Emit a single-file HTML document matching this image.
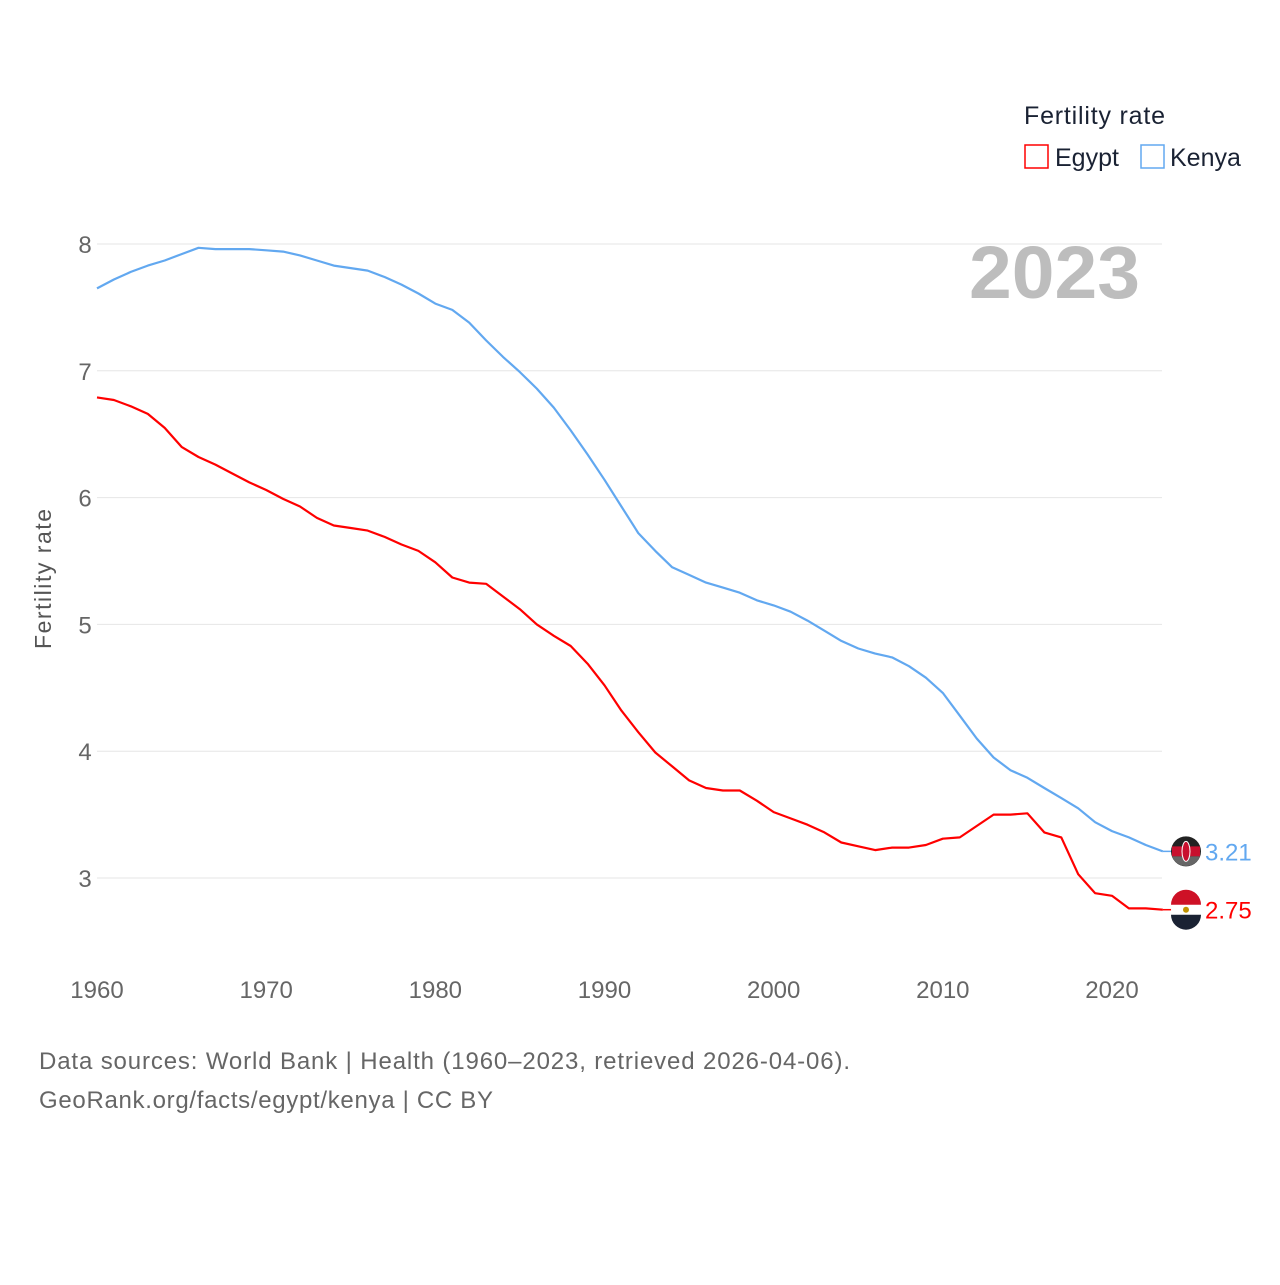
<!DOCTYPE html>
<html><head><meta charset="utf-8">
<style>
body{margin:0;background:#fff;font-family:"Liberation Sans",sans-serif;}
svg text{font-family:"Liberation Sans",sans-serif;}
</style></head>
<body>
<svg id="chart" width="1280" height="1280" xmlns="http://www.w3.org/2000/svg">
<g id="grid"></g>
<g id="yticks"></g>
<g id="xticks"></g>
<text x="969" y="298" font-size="74" font-weight="bold" fill="#bdbdbd" textLength="171" lengthAdjust="spacingAndGlyphs">2023</text>
<text transform="translate(51,579) rotate(-90)" font-size="23" fill="#555" text-anchor="middle" textLength="140">Fertility rate</text>
<text x="1024" y="124" font-size="25" fill="#1a2233" textLength="141">Fertility rate</text>
<g>
<rect x="1025" y="145" width="23" height="23" fill="none" stroke="#ff0000" stroke-width="1.5"/>
<text x="1055" y="166" font-size="25" fill="#1a2233">Egypt</text></g>
<g>
<rect x="1141" y="145" width="23" height="23" fill="none" stroke="#62a8f0" stroke-width="1.5"/>
<text x="1170" y="166" font-size="25" fill="#1a2233">Kenya</text></g>
<g id="series"></g>
<text x="39" y="1069" font-size="24" fill="#666" textLength="811">Data sources: World Bank | Health (1960–2023, retrieved 2026-04-06).</text>
<text x="39" y="1108" font-size="24" fill="#666" textLength="454">GeoRank.org/facts/egypt/kenya | CC BY</text>
</svg>
<script>
const years = [];
for (let y = 1960; y <= 2023; y++) years.push(y);
const kenya = [7.65,7.72,7.78,7.83,7.87,7.92,7.97,7.96,7.96,7.96,7.95,7.94,7.91,7.87,7.83,7.81,7.79,7.74,7.68,7.61,7.53,7.48,7.38,7.24,7.11,6.99,6.86,6.71,6.53,6.34,6.14,5.93,5.72,5.58,5.45,5.39,5.33,5.29,5.25,5.19,5.15,5.10,5.03,4.95,4.87,4.81,4.77,4.74,4.67,4.58,4.46,4.28,4.10,3.95,3.85,3.79,3.71,3.63,3.55,3.44,3.37,3.32,3.26,3.21];
const egypt = [6.79,6.77,6.72,6.66,6.55,6.40,6.32,6.26,6.19,6.12,6.06,5.99,5.93,5.84,5.78,5.76,5.74,5.69,5.63,5.58,5.49,5.37,5.33,5.32,5.22,5.12,5.00,4.91,4.83,4.69,4.52,4.32,4.15,3.99,3.88,3.77,3.71,3.69,3.69,3.61,3.52,3.47,3.42,3.36,3.28,3.25,3.22,3.24,3.24,3.26,3.31,3.32,3.41,3.50,3.50,3.51,3.36,3.32,3.03,2.88,2.86,2.76,2.76,2.75];
const yTicks = [3,4,5,6,7,8];
const xTicks = [1960,1970,1980,1990,2000,2010,2020];
const NS = "http://www.w3.org/2000/svg";
const xs = y => 97 + (y - 1960) * (1015 / 60);
const ys = v => 244 + (8 - v) * 126.8;
function mk(tag, attrs, parent){const e=document.createElementNS(NS,tag);for(const k in attrs)e.setAttribute(k,attrs[k]);parent.appendChild(e);return e;}
const grid=document.getElementById('grid'), yt=document.getElementById('yticks'), xt=document.getElementById('xticks'), ser=document.getElementById('series');
yTicks.forEach(v=>{
  const l=mk('line',{x1:97,x2:1162,y1:ys(v),y2:ys(v),stroke:'#e6e6e6','stroke-width':1},grid);
  
  
  const t=mk('text',{x:85,y:ys(v)+9,'font-size':24,fill:'#666','text-anchor':'middle'},yt);
  t.textContent=v;
  
  
});
xTicks.forEach(v=>{
  const t=mk('text',{x:xs(v),y:998,'font-size':24,fill:'#666','text-anchor':'middle'},xt);
  t.textContent=v;
  
  
});
function line(data,color,name){
  const d=data.map((v,i)=>(i?'L':'M')+xs(years[i]).toFixed(1)+','+ys(v).toFixed(1)).join('');
  const p=mk('path',{d:d,fill:'none',stroke:color,'stroke-width':2.2,'stroke-linejoin':'round'},ser);
  
  
  const last=data[data.length-1], lx=xs(years[years.length-1]), ly=ys(last);
  mk('line',{x1:lx,x2:1175,y1:ly,y2:ly,stroke:color,'stroke-width':1.5},ser);
  const g=mk('g',{},ser);
  
  
  if(name==='kenya'){
    mk('circle',{cx:1186,cy:ly,r:15,fill:'#222'},g);
    mk('path',{d:`M1172,${ly-5}L1200,${ly-5}L1200,${ly+5}L1172,${ly+5}Z`,fill:'#c8102e'},g);
    mk('path',{d:`M1172,${ly+5}L1200,${ly+5}A15,15 0 0 1 1172,${ly+5}Z`,fill:'#666'},g);
    mk('ellipse',{cx:1186,cy:ly,rx:4,ry:10,fill:'#c8102e',stroke:'#fff','stroke-width':1},g);
  } else {
    mk('circle',{cx:1186,cy:ly,r:15,fill:'#fff'},g);
    mk('path',{d:`M1171,${ly-5}A15,15 0 0 1 1201,${ly-5}Z`,fill:'#ce1126'},g);
    mk('path',{d:`M1171,${ly+5}A15,15 0 0 0 1201,${ly+5}Z`,fill:'#1a2233'},g);
    mk('circle',{cx:1186,cy:ly,r:3,fill:'#c09300'},g);
  }
  const t=mk('text',{x:1205,y:ly+9,'font-size':24,fill:color},ser);
  t.textContent=last.toFixed(2);
  
  
}
line(kenya,'#62a8f0','kenya');
line(egypt,'#ff0000','egypt');
</script>
</body></html>
